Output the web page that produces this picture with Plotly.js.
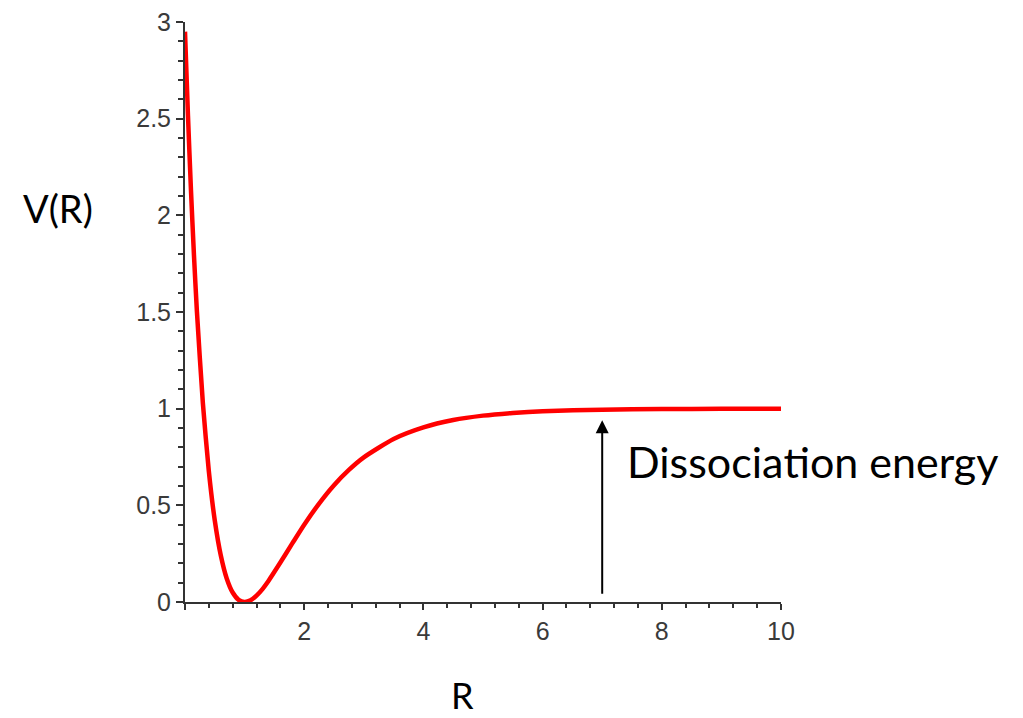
<!DOCTYPE html>
<html>
<head>
<meta charset="utf-8">
<script src="https://cdn.plot.ly/plotly-3.0.1.min.js"></script>
<style>html,body{margin:0;padding:0;background:#fff;}#chart{width:1023px;height:718px;}</style>
</head>
<body>
<div id="chart"></div>
<script>
// Curve values
const R_values = [0, 0.05, 0.1, 0.15, 0.2, 0.3, 0.4, 0.5, 0.6, 0.7, 0.8, 0.9, 1.0, 1.1, 1.2, 1.3, 1.4, 1.6, 1.8, 2.0, 2.25, 2.5, 2.75, 3, 3.5, 4, 4.5, 5, 5.5, 6, 7, 8, 9, 10];
const V_values = [2.95, 2.515, 2.131, 1.795, 1.502, 1.028, 0.676, 0.421, 0.242, 0.122, 0.049, 0.011, 0, 0.009, 0.033, 0.067, 0.109, 0.204, 0.303, 0.400, 0.509, 0.604, 0.683, 0.748, 0.843, 0.903, 0.941, 0.964, 0.978, 0.987, 0.995, 0.998, 0.999, 1.0];
const xTickVals = [0, 2, 4, 6, 8, 10];
const xTickText = ['', '2', '4', '6', '8', '10'];
const yTickVals = [0, 0.5, 1, 1.5, 2, 2.5, 3];
const yTickText = ['0', '0.5', '1', '1.5', '2', '2.5', '3'];
const arrowX = 7, arrowFrom = 0.035, arrowTo = 0.94;
const labels = {y: 'V(R)', x: 'R', note: 'Dissocia\u200Ction energy'};

const axisColor = '#333333';
const tickFont = {family: 'Liberation Sans', size: 25, color: '#3a3a3a'};
const textFont = {family: 'Lato', color: '#000000'};

const trace = {
  x: R_values, y: V_values, type: 'scatter', mode: 'lines',
  line: {color: '#ff0000', width: 4.5, shape: 'spline', smoothing: 0.6},
  hoverinfo: 'skip'
};

const layout = {
  width: 1023, height: 718,
  margin: {l: 185, r: 242, t: 22, b: 116},
  paper_bgcolor: '#ffffff', plot_bgcolor: '#ffffff',
  showlegend: false,
  xaxis: {
    range: [0, 10], showgrid: false, zeroline: false,
    showline: true, linecolor: axisColor, linewidth: 2,
    tickmode: 'array', tickvals: xTickVals, ticktext: xTickText,
    ticks: 'outside', ticklen: 6, tickwidth: 2, tickcolor: axisColor,
    tickfont: tickFont,
    minor: {tick0: 0, dtick: 0.4, ticks: 'outside', ticklen: 4, tickwidth: 2, tickcolor: axisColor, showgrid: false}
  },
  yaxis: {
    range: [0, 3], showgrid: false, zeroline: false,
    showline: true, linecolor: axisColor, linewidth: 2,
    tickmode: 'array', tickvals: yTickVals, ticktext: yTickText,
    ticks: 'outside', ticklen: 7, tickwidth: 2, tickcolor: axisColor,
    tickfont: tickFont,
    minor: {tick0: 0, dtick: 0.1, ticks: 'outside', ticklen: 5, tickwidth: 2, tickcolor: axisColor, showgrid: false}
  },
  annotations: [
    {xref: 'paper', yref: 'paper', x: (58 - 185) / 596, y: (602 - 208) / 580, text: labels.y,
     showarrow: false, xanchor: 'center', yanchor: 'middle', font: Object.assign({size: 38}, textFont)},
    {xref: 'paper', yref: 'paper', x: (462 - 185) / 596, y: (602 - 695) / 580, text: labels.x,
     showarrow: false, xanchor: 'center', yanchor: 'middle', font: Object.assign({size: 36}, textFont)},
    {xref: 'paper', yref: 'paper', x: (625 - 185) / 596, y: (602 - 461) / 580, text: labels.note,
     showarrow: false, xanchor: 'left', yanchor: 'middle', font: Object.assign({size: 43}, textFont)},
    {xref: 'x', yref: 'y', x: arrowX, y: arrowTo, axref: 'x', ayref: 'y', ax: arrowX, ay: arrowFrom,
     text: '', showarrow: true, arrowhead: 2, arrowsize: 1.3, arrowwidth: 2, arrowcolor: '#000000'}
  ]
};

Plotly.newPlot('chart', [trace], layout, {displayModeBar: false, staticPlot: true});
</script>
</body>
</html>
